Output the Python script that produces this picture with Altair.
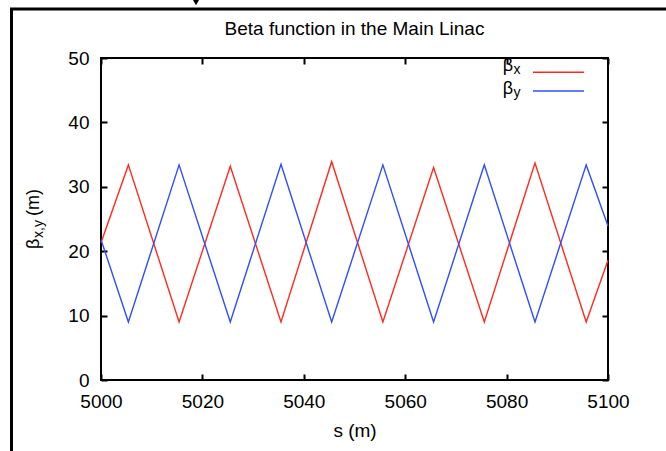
import altair as alt
import pandas as pd

# ---- data ----
s_pts = [5000, 5005.4, 5015.4, 5025.5, 5035.5, 5045.5, 5055.6, 5065.6, 5075.6, 5085.6, 5095.7, 5100]
beta_x = [21.3, 33.4, 9.0, 33.2, 9.0, 33.9, 9.0, 33.0, 9.0, 33.7, 9.0, 18.6]
beta_y = [21.8, 9.0, 33.4, 9.0, 33.5, 9.0, 33.4, 9.0, 33.4, 9.0, 33.4, 23.9]
series_names = ["βx", "βy"]
x_ticks = [5000, 5020, 5040, 5060, 5080, 5100]
y_ticks = [0, 10, 20, 30, 40, 50]
title_text = "Beta function in the Main Linac"

RED = "#ff2a1e"
BLUE = "#2f4cff"
FONT = "Liberation Sans"
W, H = 507, 322

n = len(s_pts)
df = pd.DataFrame({
    "s": s_pts + s_pts,
    "beta": beta_x + beta_y,
    "series": [series_names[0]] * n + [series_names[1]] * n,
})

lines = alt.Chart(df).mark_line(strokeWidth=1.4).encode(
    x=alt.X("s:Q",
            scale=alt.Scale(domain=[5000, 5100], nice=False, zero=False),
            axis=alt.Axis(values=x_ticks, format="d", title="s (m)",
                          grid=True, gridDash=[6, H - 12], gridColor="black",
                          gridWidth=2, gridOpacity=1,
                          ticks=False, tickSize=0, domain=False,
                          labelFlush=False, labelPadding=12, titlePadding=10)),
    y=alt.Y("beta:Q",
            scale=alt.Scale(domain=[0, 50], nice=False),
            axis=alt.Axis(values=y_ticks, format="d", title=None,
                          grid=True, gridDash=[6, W - 12], gridColor="black",
                          gridWidth=2, gridOpacity=1,
                          ticks=False, tickSize=0, domain=False,
                          labelFlush=False, labelPadding=12)),
    color=alt.Color("series:N",
                    scale=alt.Scale(domain=series_names, range=[RED, BLUE]),
                    legend=None),
)


def one(label="."):
    return pd.DataFrame({"t": [label]})


def txt(label, x, y, size, angle=0, align="left", baseline="alphabetic"):
    return alt.Chart(one(label)).mark_text(
        font=FONT, fontSize=size, angle=angle, align=align,
        baseline=baseline, color="black"
    ).encode(text="t:N", x=alt.value(x), y=alt.value(y))


def hrule(x1, x2, y, color, width):
    return alt.Chart(one()).mark_rule(color=color, strokeWidth=width).encode(
        x=alt.value(x1), x2=alt.value(x2), y=alt.value(y))


def vrule(x, y1, y2, color, width):
    return alt.Chart(one()).mark_rule(color=color, strokeWidth=width).encode(
        x=alt.value(x), y=alt.value(y1), y2=alt.value(y2))


decor = [
    # chart title
    txt(title_text, W / 2, -23, 19, align="center"),
    # y-axis title  β_{x,y} (m), reading upward
    txt("β", -62, 191, 18, angle=270, align="left"),
    txt("x,y", -58, 180, 14, angle=270, align="left"),
    txt("(m)", -62, 158, 18, angle=270, align="left"),
    # key
    txt("β", 412, 12.5, 18, align="right"),
    txt("x", 412.5, 16, 14),
    hrule(432, 483, 14.3, RED, 1.5),
    txt("β", 412, 35.5, 18, align="right"),
    txt("y", 412.5, 39, 14),
    hrule(432, 483, 33, BLUE, 1.5),
    # outer frame of the page
    vrule(-89.5, -49, 393, "black", 3),
    hrule(-91, 565, -49, "black", 3),
    alt.Chart(one()).mark_point(shape="triangle-down", filled=True, color="black",
                                size=40, opacity=1).encode(
        x=alt.value(95), y=alt.value(-55.5)),
]

chart = alt.layer(lines, *decor).properties(
    width=W, height=H,
    padding={"left": 101, "top": 58, "right": 58, "bottom": 71},
    autosize=alt.AutoSizeParams(type="none"),
).configure_view(
    stroke="black", strokeWidth=2
).configure_axis(
    labelFont=FONT, titleFont=FONT, labelFontSize=19, titleFontSize=19,
    titleFontWeight="normal", labelColor="black", titleColor="black"
)

chart.save("out.html", embed_options={"renderer": "svg", "actions": False})
